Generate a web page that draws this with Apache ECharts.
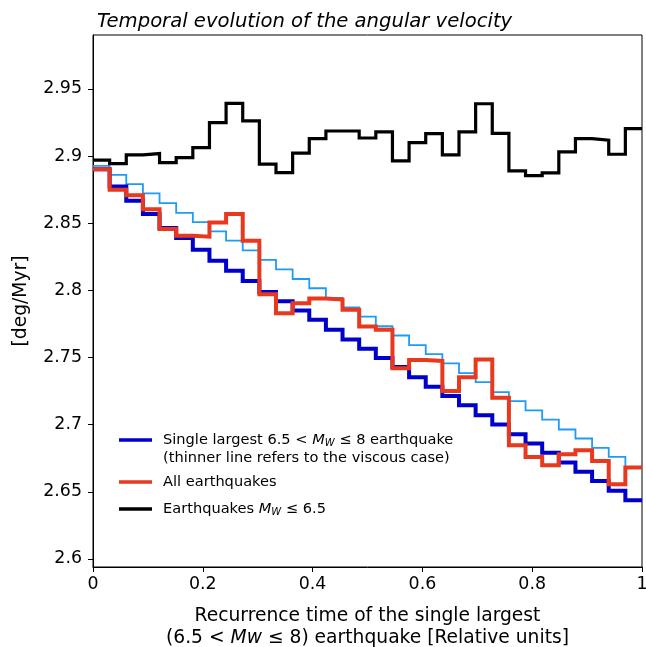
<!DOCTYPE html>
<html>
<head>
<meta charset="utf-8">
<script src="https://cdn.jsdelivr.net/npm/echarts@6/dist/echarts.min.js"></script>
<style>
html,body{margin:0;padding:0;background:#fff;}
#chart{width:646px;height:647px;}
</style>
</head>
<body>
<div id="chart"></div>
<script>
// Step levels: 33 equal intervals across the relative recurrence time [0, 1]
const nSteps = 33;

const singleLargest = [2.8903, 2.8773, 2.8667, 2.8568, 2.8464, 2.8390, 2.8303, 2.8221, 2.8147, 2.8070,
  2.7988, 2.7919, 2.7850, 2.7781, 2.7707, 2.7634, 2.7565, 2.7496, 2.7429, 2.7354,
  2.7283, 2.7213, 2.7144, 2.7070, 2.7001, 2.6929, 2.6860, 2.6790, 2.6718, 2.6649,
  2.6580, 2.6507, 2.6438];

const singleLargestViscous = [2.8927, 2.8860, 2.8791, 2.8722, 2.8650, 2.8578, 2.8509, 2.8439, 2.8370, 2.8298,
  2.8228, 2.8157, 2.8085, 2.8016, 2.7944, 2.7874, 2.7805, 2.7733, 2.7664, 2.7593,
  2.7526, 2.7456, 2.7384, 2.7317, 2.7243, 2.7176, 2.7107, 2.7038, 2.6964, 2.6897,
  2.6827, 2.6760, 2.6680];

const allQuakes = [2.8903, 2.8749, 2.8709, 2.8605, 2.8457, 2.8407, 2.8400, 2.8506, 2.8568, 2.8370,
  2.7972, 2.7830, 2.7904, 2.7939, 2.7932, 2.7855, 2.7731, 2.7707, 2.7421, 2.7481,
  2.7475, 2.7250, 2.7354, 2.7486, 2.7201, 2.6847, 2.6760, 2.6698, 2.6780, 2.6810,
  2.6730, 2.6557, 2.6681];

const smallQuakes = [2.8970, 2.8944, 2.9009, 2.9019, 2.8952, 2.8989, 2.9063, 2.9249, 2.9393, 2.9262,
  2.8940, 2.8877, 2.9022, 2.9130, 2.9187, 2.9187, 2.9135, 2.9180, 2.8964, 2.9100,
  2.9167, 2.9009, 2.9180, 2.9390, 2.9170, 2.8890, 2.8855, 2.8875, 2.9031, 2.9130,
  2.9118, 2.9014, 2.9204];

const yTicks = [2.6, 2.65, 2.7, 2.75, 2.8, 2.85, 2.9, 2.95];
const xTicks = [0, 0.2, 0.4, 0.6, 0.8, 1];

function toSteps(levels) {
  const pts = levels.map((v, i) => [i / nSteps, v]);
  pts.push([1, levels[levels.length - 1]]);
  return pts;
}

const FONT = 'DejaVu Sans';
const chart = echarts.init(document.getElementById('chart'), null, {renderer: 'canvas'});

function lineSeries(name, levels, color, width, z) {
  return {
    name: name, type: 'line', step: 'end', data: toSteps(levels),
    showSymbol: false, symbol: 'none', z: z,
    lineStyle: {color: color, width: width, join: 'miter', cap: 'butt'},
    itemStyle: {color: color}
  };
}

const legendX0 = 119, legendX1 = 152, legendTextX = 163;
const LF = 14.6;

chart.setOption({
  animation: false,
  backgroundColor: '#fff',
  textStyle: {fontFamily: FONT, color: '#000'},
  title: {
    text: 'Temporal evolution of the angular velocity',
    left: 92, top: 7,
    textStyle: {fontFamily: FONT, fontStyle: 'italic', fontWeight: 'normal', fontSize: 19.6, color: '#000'}
  },
  grid: {left: 93, right: 4, top: 35, bottom: 80, show: true, borderColor: '#000', borderWidth: 1,
    backgroundColor: 'transparent', outerBoundsMode: 'none', containLabel: false},
  xAxis: {
    type: 'value', min: 0, max: 1, interval: 0.2,
    name: 'Recurrence time of the single largest\n(6.5 < {i|Mw} ≤ 8) earthquake [Relative units]',
    nameLocation: 'middle', nameGap: 38,
    nameTextStyle: {fontFamily: FONT, fontSize: 18.7, color: '#000', lineHeight: 22,
      rich: {i: {fontFamily: FONT, fontSize: 18.7, fontStyle: 'italic', color: '#000', lineHeight: 22}}},
    axisLine: {show: true, lineStyle: {color: '#000', width: 1}},
    axisTick: {show: true, inside: false, length: 5, lineStyle: {color: '#000', width: 1}},
    axisLabel: {fontFamily: FONT, fontSize: 17.4, color: '#000', margin: 9,
      customValues: xTicks,
      formatter: v => String(parseFloat(v.toFixed(2)))},
    splitLine: {show: false}
  },
  yAxis: {
    type: 'value', min: 2.594, max: 2.9902,
    name: '[deg/Myr]', nameLocation: 'middle', nameGap: 62, nameRotate: 90,
    nameTextStyle: {fontFamily: FONT, fontSize: 18.7, color: '#000'},
    axisLine: {show: true, lineStyle: {color: '#000', width: 1}},
    axisTick: {show: true, inside: false, length: 5, lineStyle: {color: '#000', width: 1}, customValues: yTicks},
    axisLabel: {fontFamily: FONT, fontSize: 17.4, color: '#000', margin: 11, customValues: yTicks,
      formatter: v => String(parseFloat(v.toFixed(2)))},
    splitLine: {show: false}
  },
  series: [
    lineSeries('Single largest (viscous)', singleLargestViscous, '#1E9CF5', 1.8, 2),
    lineSeries('Single largest', singleLargest, '#0000CC', 4, 3),
    lineSeries('All earthquakes', allQuakes, '#E8391F', 4, 4),
    lineSeries('Earthquakes Mw<=6.5', smallQuakes, '#000000', 3.2, 5)
  ],
  graphic: [
    {type: 'line', shape: {x1: legendX0, y1: 440, x2: legendX1, y2: 440}, style: {stroke: '#0000CC', lineWidth: 3.5}, z: 10},
    {type: 'line', shape: {x1: legendX0, y1: 482, x2: legendX1, y2: 482}, style: {stroke: '#E8391F', lineWidth: 3.5}, z: 10},
    {type: 'line', shape: {x1: legendX0, y1: 509, x2: legendX1, y2: 509}, style: {stroke: '#000000', lineWidth: 3.5}, z: 10},
    {type: 'text', x: legendTextX, y: 440, z: 10, style: {
      text: '{n|Single largest 6.5 < }{i|M}{s|W}{n| ≤ 8 earthquake}',
      verticalAlign: 'middle', fill: '#000', fontFamily: FONT, fontSize: LF,
      rich: {
        n: {fontFamily: FONT, fontSize: LF, fill: '#000', lineHeight: 20},
        i: {fontFamily: FONT, fontSize: LF, fontStyle: 'italic', fill: '#000', lineHeight: 20},
        s: {fontFamily: FONT, fontSize: 10, fontStyle: 'italic', fill: '#000', lineHeight: 20, padding: [7, 0, 0, 0]}
      }}},
    {type: 'text', x: legendTextX, y: 458, z: 10, style: {
      text: '(thinner line refers to the viscous case)',
      verticalAlign: 'middle', fill: '#000', fontFamily: FONT, fontSize: LF}},
    {type: 'text', x: legendTextX, y: 482, z: 10, style: {
      text: 'All earthquakes',
      verticalAlign: 'middle', fill: '#000', fontFamily: FONT, fontSize: LF}},
    {type: 'text', x: legendTextX, y: 509, z: 10, style: {
      text: '{n|Earthquakes }{i|M}{s|W}{n| ≤ 6.5}',
      verticalAlign: 'middle', fill: '#000', fontFamily: FONT, fontSize: LF,
      rich: {
        n: {fontFamily: FONT, fontSize: LF, fill: '#000', lineHeight: 20},
        i: {fontFamily: FONT, fontSize: LF, fontStyle: 'italic', fill: '#000', lineHeight: 20},
        s: {fontFamily: FONT, fontSize: 10, fontStyle: 'italic', fill: '#000', lineHeight: 20, padding: [7, 0, 0, 0]}
      }}}
  ]
});
</script>
</body>
</html>
